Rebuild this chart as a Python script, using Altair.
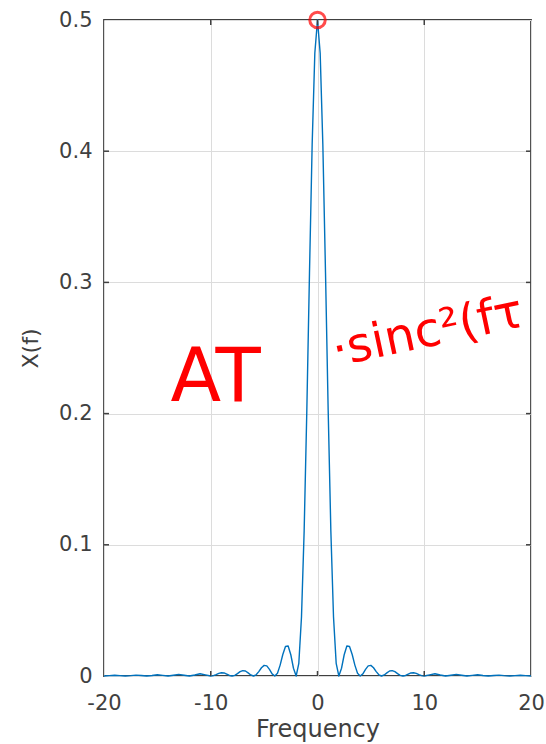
import altair as alt
import pandas as pd

# Frequency samples (Hz) and spectrum magnitude X(f)
freq = [-20, -19.5, -19, -18.5, -18, -17.5, -17, -16.5, -16, -15.5, -15, -14.5, -14, -13.5,
        -13, -12.5, -12, -11.5, -11, -10.5, -10,
        -9.75, -9.5, -9.25, -9, -8.75, -8.5, -8.25, -8, -7.75, -7.5, -7.25, -7, -6.75, -6.5,
        -6.25, -6, -5.75, -5.5, -5.25, -5, -4.75, -4.5, -4.25, -4, -3.75, -3.5, -3.25, -3,
        -2.75, -2.5, -2.25, -2, -1.75, -1.5, -1.25, -1, -0.75, -0.5, -0.25,
        0,
        0.25, 0.5, 0.75, 1, 1.25, 1.5, 1.75, 2, 2.25, 2.5, 2.75, 3, 3.25, 3.5, 3.75, 4,
        4.25, 4.5, 4.75, 5, 5.25, 5.5, 5.75, 6, 6.25, 6.5, 6.75, 7, 7.25, 7.5, 7.75, 8,
        8.25, 8.5, 8.75, 9, 9.25, 9.5, 9.75,
        10, 10.5, 11, 11.5, 12, 12.5, 13, 13.5, 14, 14.5, 15, 15.5, 16, 16.5, 17, 17.5,
        18, 18.5, 19, 19.5, 20]

xf = [0.0, 0.0003, 0.0006, 0.0003, 0.0, 0.0003, 0.0007, 0.0004, 0.0, 0.0004, 0.0009, 0.0005,
      0.0, 0.0006, 0.0012, 0.0006, 0.0, 0.0008, 0.0017, 0.0009, 0.0,
      0.0003, 0.0011, 0.0020, 0.0025, 0.0023, 0.0014, 0.0004, 0.0,
      0.0005, 0.0018, 0.0033, 0.0041, 0.0038, 0.0024, 0.0008, 0.0,
      0.0009, 0.0033, 0.0063, 0.0081, 0.0077, 0.0050, 0.0016, 0.0,
      0.0021, 0.0083, 0.0164, 0.0225, 0.0229, 0.0162, 0.0059, 0.0,
      0.0097, 0.0450, 0.1107, 0.2026, 0.3075, 0.4053, 0.4748,
      0.5,
      0.4748, 0.4053, 0.3075, 0.2026, 0.1107, 0.0450, 0.0097, 0.0,
      0.0059, 0.0162, 0.0229, 0.0225, 0.0164, 0.0083, 0.0021, 0.0,
      0.0016, 0.0050, 0.0077, 0.0081, 0.0063, 0.0033, 0.0009, 0.0,
      0.0008, 0.0024, 0.0038, 0.0041, 0.0033, 0.0018, 0.0005, 0.0,
      0.0004, 0.0014, 0.0023, 0.0025, 0.0020, 0.0011, 0.0003,
      0.0, 0.0009, 0.0017, 0.0008, 0.0, 0.0006, 0.0012, 0.0006, 0.0, 0.0005, 0.0009, 0.0004,
      0.0, 0.0004, 0.0007, 0.0003, 0.0, 0.0003, 0.0006, 0.0003, 0.0]

assert len(freq) == len(xf)

x_ticks = [-20, -10, 0, 10, 20]
y_ticks = [0, 0.1, 0.2, 0.3, 0.4, 0.5]
x_inner_ticks = [-10, 0, 10]
y_inner_ticks = [0.1, 0.2, 0.3, 0.4]

# peak marker
peak_f = [0]
peak_x = [0.5]

# handwritten annotations
note_text = ["AT", "·sinc²(fτ"]
note_f = [-9.55, 1.7]
note_x = [0.2096, 0.236]

W, H = 427, 656
FONT = "DejaVu Sans"
AX = "#404040"
BLUE = "#0072BD"

df = pd.DataFrame({"f": freq, "X": xf})
xs = alt.Scale(domain=[-20, 20], nice=False, zero=False)
ys = alt.Scale(domain=[0, 0.5], nice=False)

base = alt.Chart(df)

line = base.mark_line(color=BLUE, strokeWidth=1.4, strokeJoin="round").encode(
    x=alt.X("f:Q", scale=xs, title="Frequency",
            axis=alt.Axis(values=x_ticks, labelExpr="toString(datum.value)", grid=True,
                          gridColor="#dcdcdc", labelFlush=False, labelOverlap=False,
                          gridWidth=1, domain=False, ticks=False, labelPadding=16,
                          labelFont=FONT, labelFontSize=21, labelColor=AX,
                          titleFont=FONT, titleFontSize=24, titleFontWeight="normal",
                          titleColor=AX, titlePadding=4)),
    y=alt.Y("X:Q", scale=ys, title="X(f)",
            axis=alt.Axis(values=y_ticks, format=".1~f", grid=True, gridColor="#dcdcdc",
                          gridWidth=1, domain=False, ticks=False, labelPadding=12,
                          labelFlush=False, labelOverlap=False,
                          labelFont=FONT, labelFontSize=21, labelColor=AX,
                          titleFont=FONT, titleFontSize=22, titleFontWeight="normal",
                          titleColor=AX, titlePadding=16)),
)

xt = alt.Chart(pd.DataFrame({"t": x_inner_ticks}))
yt = alt.Chart(pd.DataFrame({"t": y_inner_ticks}))
tick_style = dict(color=AX, strokeWidth=1.5)
ticks_bottom = xt.mark_rule(**tick_style).encode(
    x=alt.X("t:Q", scale=xs), y=alt.value(H), y2=alt.value(H - 5))
ticks_top = xt.mark_rule(**tick_style).encode(
    x=alt.X("t:Q", scale=xs), y=alt.value(0), y2=alt.value(5))
ticks_left = yt.mark_rule(**tick_style).encode(
    y=alt.Y("t:Q", scale=ys), x=alt.value(0), x2=alt.value(5))
ticks_right = yt.mark_rule(**tick_style).encode(
    y=alt.Y("t:Q", scale=ys), x=alt.value(W), x2=alt.value(W - 5))

peak = alt.Chart(pd.DataFrame({"f": peak_f, "X": peak_x})).mark_point(
    shape="circle", filled=False, color="#ff0000", strokeWidth=3, size=240
).encode(x=alt.X("f:Q", scale=xs), y=alt.Y("X:Q", scale=ys))

notes_df = pd.DataFrame({"f": note_f, "X": note_x, "t": note_text})
note_at = alt.Chart(notes_df.iloc[[0]]).mark_text(
    font=FONT, fontSize=74, color="#ff0000", align="center", baseline="alphabetic"
).encode(x=alt.X("f:Q", scale=xs), y=alt.Y("X:Q", scale=ys), text="t:N")
note_sinc = alt.Chart(notes_df.iloc[[1]]).mark_text(
    font=FONT, fontSize=48, color="#ff0000", align="left", baseline="alphabetic", angle=348
).encode(x=alt.X("f:Q", scale=xs), y=alt.Y("X:Q", scale=ys), text="t:N")

chart = alt.layer(
    line, ticks_bottom, ticks_top, ticks_left, ticks_right, peak, note_at, note_sinc
).properties(
    width=W, height=H,
    autosize=alt.AutoSizeParams(type="none"),
    padding={"left": 104, "top": 20, "right": 15, "bottom": 68},
    background="white",
).configure_view(stroke=AX, strokeWidth=1.8)

chart.save("out.html", embed_options={"renderer": "svg", "actions": False})
